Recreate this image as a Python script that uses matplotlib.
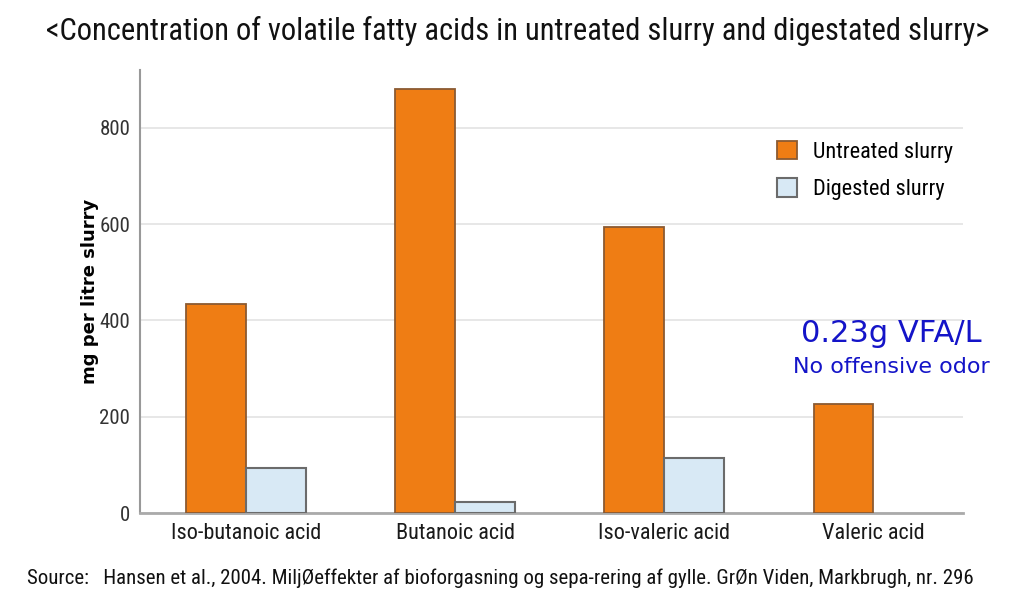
import numpy as np
import matplotlib.pyplot as plt
from matplotlib import font_manager
from matplotlib.patches import Patch

installed = {f.name for f in font_manager.fontManager.ttflist}
narrow = [n for n in ["Liberation Sans Narrow", "DejaVu Sans Condensed", "Roboto Condensed",
                      "Open Sans Condensed", "Noto Sans Condensed"] if n in installed]
plt.rcParams['font.family'] = narrow[:1] + ['DejaVu Sans']

acids = ["Iso-butanoic acid", "Butanoic acid", "Iso-valeric acid", "Valeric acid"]
untreated = [434, 881, 594, 227]
digested = [93, 23, 114, 0]
y_ticks = [0, 200, 400, 600, 800]

fig = plt.figure(figsize=(10.24, 5.89), dpi=100)
ax = fig.add_axes([0.1367, 0.129, 0.8037, 0.752])

x = np.arange(len(acids))
w = 0.285
ax.bar(x - w / 2, untreated, w, color="#ef7d14", edgecolor="#8b5a32", linewidth=1.3,
       label="Untreated slurry", zorder=3)
dig = [d if d > 0 else np.nan for d in digested]
ax.bar(x + w / 2, dig, w, color="#d8e9f5", edgecolor="#6b6b6b", linewidth=1.5,
       label="Digested slurry", zorder=3)

ax.set_xlim(-0.507, 3.43)
ax.set_ylim(0, 920)
ax.set_yticks(y_ticks)
ax.set_yticklabels([str(v) for v in y_ticks], fontsize=15, color="#333333")
ax.set_xticks(x)
ax.set_xticklabels(acids, fontsize=16, color="#1a1a1a")
ax.tick_params(length=0, pad=7)
ax.tick_params(axis="y", pad=7)
ax.grid(axis="y", color="#e3e3e3", linewidth=1.2, zorder=0)
for s in ["top", "right"]:
    ax.spines[s].set_visible(False)
ax.spines["left"].set_color("#999999")
ax.spines["left"].set_linewidth(1.5)
ax.spines["bottom"].set_color("#aaaaaa")
ax.spines["bottom"].set_linewidth(2)

ax.set_ylabel("mg per litre slurry", fontsize=13, fontweight="bold",
              family="DejaVu Sans", labelpad=0)

handles = [Patch(facecolor="#ef7d14", edgecolor="#8b5a32", linewidth=1.3),
           Patch(facecolor="#d8e9f5", edgecolor="#6b6b6b", linewidth=1.5)]
ax.legend(handles, ["Untreated slurry", "Digested slurry"], loc="upper left",
          bbox_to_anchor=(0.75, 0.885), frameon=False, fontsize=16,
          handlelength=0.9, handleheight=0.9, labelspacing=0.7, handletextpad=0.7)

fig.text(0.506, 0.948, "<Concentration of volatile fatty acids in untreated slurry and digestated slurry>",
         ha="center", va="center", fontsize=22 if narrow else 16, color="#111111")
fig.text(0.870, 0.434, "0.23g VFA/L", ha="center", va="center", fontsize=22,
         color="#1414c8", family="DejaVu Sans")
fig.text(0.870, 0.377, "No offensive odor", ha="center", va="center", fontsize=16,
         color="#1414c8", family="DejaVu Sans")
fig.text(0.026, 0.018,
         "Source:   Hansen et al., 2004. Milj\u00d8effekter af bioforgasning og sepa-rering af gylle. Gr\u00d8n Viden, Markbrugh, nr. 296",
         ha="left", va="center", fontsize=15 if narrow else 10.5, color="#111111")

fig.savefig("out.png", dpi=100)
